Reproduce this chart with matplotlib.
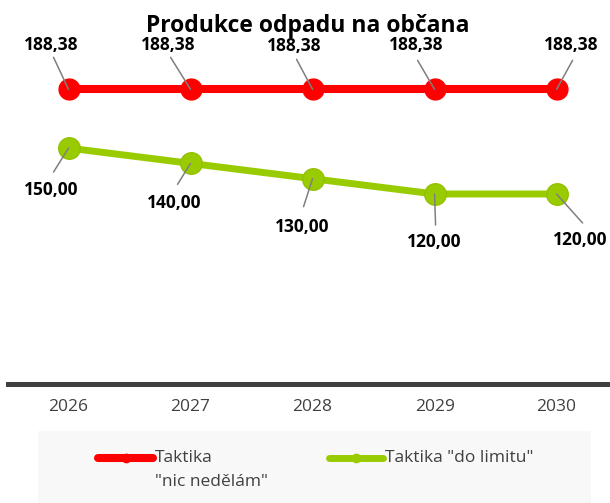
import matplotlib
matplotlib.use("Agg")
import matplotlib.pyplot as plt
from matplotlib.lines import Line2D
from matplotlib.patches import Rectangle

# ---- data ----
years = ["2026", "2027", "2028", "2029", "2030"]
nic_nedelam = [188.38, 188.38, 188.38, 188.38, 188.38]
do_limitu = [150.00, 140.00, 130.00, 120.00, 120.00]
series_names = ['Taktika\n"nic nedělám"', 'Taktika "do limitu"']
title = "Produkce odpadu na občana"

RED = "#FF0000"
GREEN = "#99CC00"
GREY_TXT = "#404040"
LEADER = "#7F7F7F"

W, H = 610, 503
fig = plt.figure(figsize=(W / 100, H / 100), dpi=100)
fig.patch.set_facecolor("white")


def fx(x):
    return x / W


def fy(y):
    return 1 - y / H


# axes placed in pixel coordinates (top-left origin)
ax_left, ax_right, ax_top, ax_bottom = 7.5, 617.6, 40, 383.5
ax = fig.add_axes([fx(ax_left), fy(ax_bottom), (ax_right - ax_left) / W, (ax_bottom - ax_top) / H])
ax.set_xlim(-0.5, 4.5)
ax.set_ylim(-3.8, 220.6)
ax.patch.set_alpha(0)
for s in ["top", "right", "left"]:
    ax.spines[s].set_visible(False)
ax.spines["bottom"].set_color(GREY_TXT)
ax.spines["bottom"].set_linewidth(3.6)
ax.set_yticks([])
x = list(range(len(years)))
ax.set_xticks(x)
ax.set_xticklabels(years, fontfamily="Open Sans", fontsize=12.5, color=GREY_TXT)
ax.tick_params(axis="x", length=0, pad=11)

ax.plot(x, nic_nedelam, color=RED, lw=5.8, marker="o", ms=15, mfc=RED, mec=RED,
        solid_capstyle="round", zorder=3, clip_on=False)
ax.plot(x, do_limitu, color=GREEN, lw=5.0, marker="o", ms=15.5, mfc=GREEN, mec="#93C000",
        solid_capstyle="round", zorder=3, clip_on=False)

# label placement (pixel offsets, y up)
red_lbl_off = [(-17.5, 44), (-22, 44), (-18.5, 43), (-18, 44), (15, 44)]
red_lead_off = [(-15, 32), (-20, 32), (-16, 30), (-17, 29), (16, 29)]
grn_lbl_off = [(-17, -42), (-16, -40), (-10, -48), (0, -48), (24, -46)]
grn_lead_off = [(-15, -24), (-13, -21), (-9, -28), (1, -31), (26, -29)]


def fmt(v):
    return f"{v:.2f}".replace(".", ",")


for series, loff, doff in [(nic_nedelam, red_lbl_off, red_lead_off),
                           (do_limitu, grn_lbl_off, grn_lead_off)]:
    for i, v in enumerate(series):
        ax.annotate("", xy=(i, v), xytext=doff[i], textcoords="offset pixels",
                    arrowprops=dict(arrowstyle="-", color=LEADER, lw=1.1,
                                    shrinkA=0, shrinkB=0), zorder=4,
                    annotation_clip=False)
        ax.annotate(fmt(v), xy=(i, v), xytext=loff[i], textcoords="offset pixels",
                    ha="center", va="center", fontfamily="Open Sans",
                    fontweight="bold", fontsize=12.5, color="black", zorder=5,
                    annotation_clip=False)

# title
fig.text(fx(307.5), fy(31.5), title, ha="center", va="baseline",
         fontfamily="Open Sans", fontweight="bold", fontsize=16.5, color="black")

# legend (drawn manually)
fig.patches.append(Rectangle((fx(38), fy(503)), (591 - 38) / W, (503 - 431) / H,
                             transform=fig.transFigure, facecolor="#F8F8F8",
                             edgecolor="none", zorder=0))
leg_items = [(RED, 5.8, 98, 153, 155), (GREEN, 5.0, 329, 383, 385)]
for (col, lw, x0, x1, tx), name in zip(leg_items, series_names):
    fig.lines.append(Line2D([fx(x0), fx(x1)], [fy(458), fy(458)], transform=fig.transFigure,
                            color=col, lw=lw, solid_capstyle="round"))
    fig.lines.append(Line2D([fx((x0 + x1) / 2)], [fy(458)], transform=fig.transFigure,
                            color=col, marker="o", ms=6, lw=0))
    lines = name.split("\n")
    for k, ln in enumerate(lines):
        fig.text(fx(tx), fy(458 + 24 * k), ln, ha="left", va="center",
                 fontfamily="Open Sans", fontsize=12.5, color=GREY_TXT)

fig.savefig("out.png", dpi=100)
